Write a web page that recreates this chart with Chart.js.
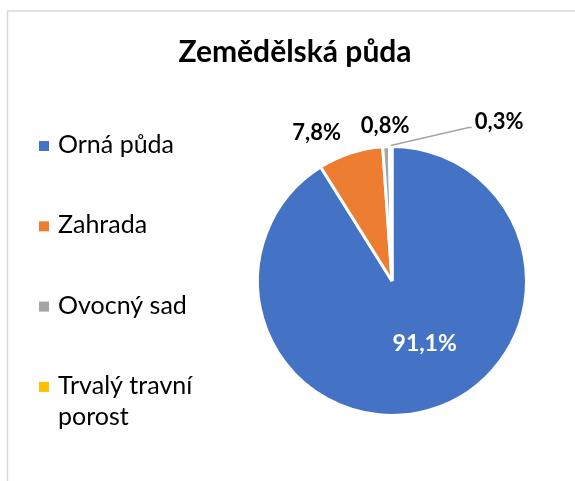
<!DOCTYPE html>
<html><head><meta charset="utf-8">
<script src="https://cdn.jsdelivr.net/npm/chart.js@4"></script>
<style>html,body{margin:0;padding:0;background:#fff}#wrap{position:relative;width:575px;height:481px}</style>
</head><body><div id="wrap"><canvas id="c" width="575" height="481"></canvas></div>
<script>
const chartTitle = 'Zemědělská půda';
const categories = ['Orná půda', 'Zahrada', 'Ovocný sad', 'Trvalý travní porost'];
const legendLines = [['Orná půda'], ['Zahrada'], ['Ovocný sad'], ['Trvalý travní', 'porost']];
const values = [91.1, 7.8, 0.8, 0.3];
const colors = ['#4472C4', '#ED7D31', '#A5A5A5', '#FFC000'];

const FONT = 'Lato, "Open Sans", sans-serif';
const fmt = v => v.toFixed(1).replace('.', ',') + '%';

// label placement styles (relative to slice geometry)
const labelStyle = [
  { mode: 'inside', rf: 0.53, dx: 13, dy: -6, color: '#ffffff', size: 23 },
  { mode: 'outside', off: 22, dx: -27, dy: 1, color: '#000000', size: 22 },
  { mode: 'outside', off: 21, dx: 0, dy: 0, color: '#000000', size: 22 },
  { mode: 'leader', off: 0, dx: 84, dy: -24, color: '#000000', size: 22 }
];

const decor = {
  id: 'decor',
  beforeDraw(chart) {
    const ctx = chart.ctx;
    ctx.save();
    ctx.fillStyle = '#fff';
    ctx.fillRect(0, 0, chart.width, chart.height);
    ctx.strokeStyle = '#d9d9d9';
    ctx.lineWidth = 1.5;
    ctx.beginPath();
    ctx.moveTo(7.5, chart.height);
    ctx.lineTo(7.5, 11);
    ctx.lineTo(chart.width, 11);
    ctx.stroke();
    ctx.restore();
  },
  afterDraw(chart) {
    const ctx = chart.ctx;
    ctx.save();
    // title
    ctx.fillStyle = '#000';
    ctx.font = 'bold 30px ' + FONT;
    ctx.textAlign = 'center';
    ctx.textBaseline = 'alphabetic';
    ctx.fillText(chartTitle, 295, 62);
    // legend
    ctx.textAlign = 'left';
    ctx.font = '25px ' + FONT;
    const lb0 = 153, lstep = 80.3;
    legendLines.forEach((lines, i) => {
      const b = lb0 + i * lstep;
      ctx.fillStyle = colors[i];
      ctx.fillRect(39, b - 12, 10, 10);
      ctx.fillStyle = '#000';
      lines.forEach((t, j) => ctx.fillText(t, 58, b + j * 31));
    });
    // data labels
    ctx.textBaseline = 'middle';
    const meta = chart.getDatasetMeta(0);
    meta.data.forEach((arc, i) => {
      const s = labelStyle[i];
      ctx.font = 'bold ' + s.size + 'px ' + FONT;
      const p = arc.getProps(['x', 'y', 'startAngle', 'endAngle', 'outerRadius'], true);
      const mid = (p.startAngle + p.endAngle) / 2;
      const txt = fmt(values[i]);
      if (s.mode === 'inside') {
        const r = p.outerRadius * s.rf;
        ctx.fillStyle = s.color;
        ctx.textAlign = 'center';
        ctx.fillText(txt, p.x + Math.cos(mid) * r + s.dx, p.y + Math.sin(mid) * r + s.dy);
      } else if (s.mode === 'outside') {
        const r = p.outerRadius + s.off;
        ctx.fillStyle = s.color;
        ctx.textAlign = 'center';
        ctx.fillText(txt, p.x + Math.cos(mid) * r + s.dx, p.y + Math.sin(mid) * r + s.dy);
      } else {
        const ex = p.x + Math.cos(mid) * (p.outerRadius + 1);
        const ey = p.y + Math.sin(mid) * (p.outerRadius + 1);
        const lx = ex + s.dx, ly = ey + s.dy;
        ctx.strokeStyle = '#A5A5A5';
        ctx.lineWidth = 1.5;
        ctx.beginPath();
        ctx.moveTo(ex, ey);
        ctx.lineTo(lx - 6, ly + 6);
        ctx.lineTo(lx - 3, ly + 6);
        ctx.stroke();
        ctx.fillStyle = s.color;
        ctx.textAlign = 'left';
        ctx.fillText(txt, lx, ly);
      }
    });
    ctx.restore();
  }
};

new Chart(document.getElementById('c'), {
  type: 'pie',
  data: {
    labels: categories,
    datasets: [{
      data: values,
      backgroundColor: colors,
      borderColor: '#ffffff',
      borderWidth: 3
    }]
  },
  options: {
    responsive: false,
    animation: false,
    devicePixelRatio: 1,
    layout: { padding: { left: 256, right: 47, top: 145, bottom: 64 } },
    plugins: { legend: { display: false }, title: { display: false }, tooltip: { enabled: false } }
  },
  plugins: [decor]
});
</script>
</body></html>
